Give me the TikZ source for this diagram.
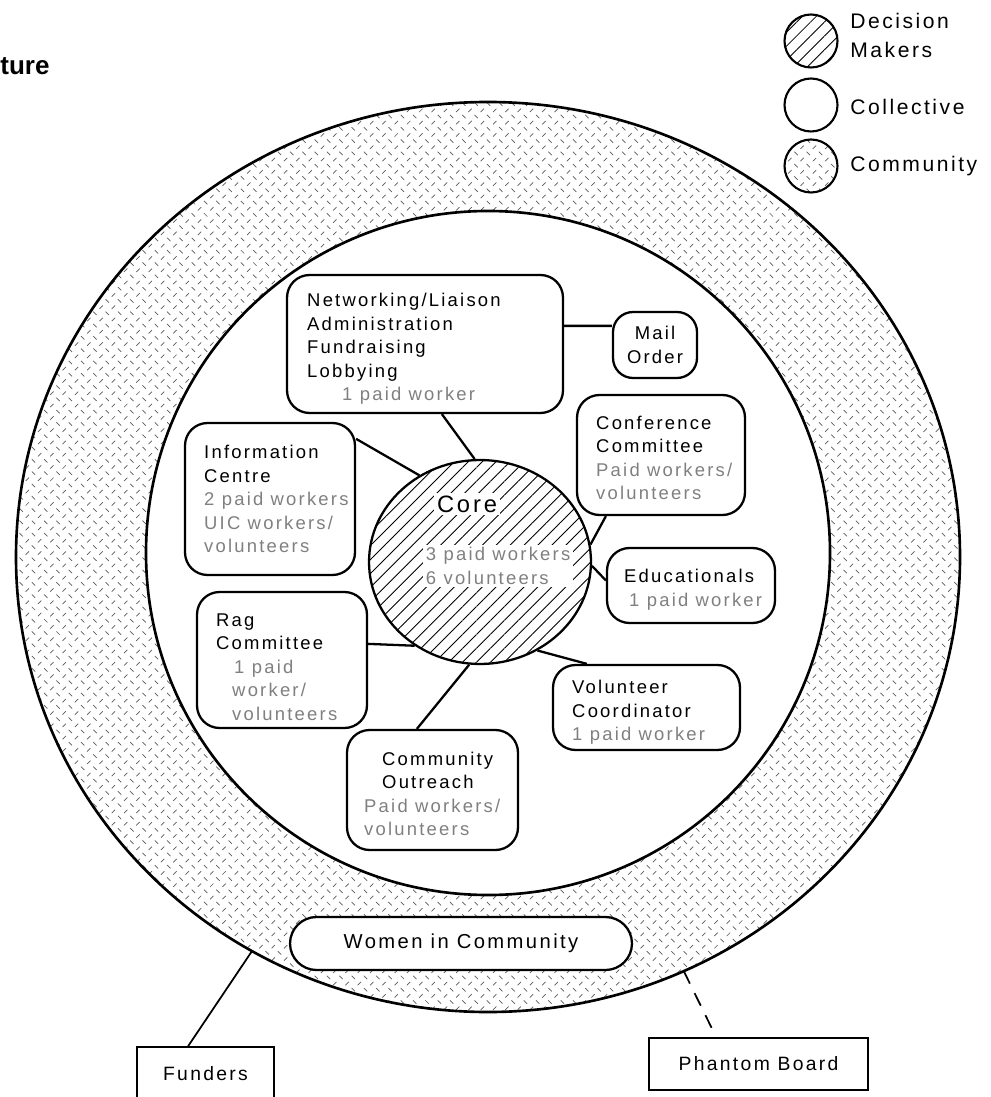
\documentclass[tikz,border=0pt]{standalone}
\usepackage{fontspec}
\newfontfamily\dgfont[LetterSpace=12]{Liberation Sans}
\newfontfamily\ttlfont{Liberation Sans}
\usetikzlibrary{shapes.geometric,patterns,patterns.meta,calc}
\colorlet{faint}{black!50}
\newcommand\fnt[1]{\textcolor{faint}{#1}}
\pgfdeclarepatternformonly{ringdash}{\pgfqpoint{-1pt}{-1pt}}{\pgfqpoint{8pt}{8pt}}{\pgfqpoint{7pt}{7pt}}{%
  \pgfsetlinewidth{0.4pt}%
  \pgfpathmoveto{\pgfqpoint{0.6pt}{0.6pt}}\pgfpathlineto{\pgfqpoint{2.5pt}{2.5pt}}%
  \pgfpathmoveto{\pgfqpoint{4.1pt}{6.0pt}}\pgfpathlineto{\pgfqpoint{6.0pt}{4.1pt}}%
  \pgfusepath{stroke}}
\tikzset{
  ringline/.style={line width=1.5pt},
  box/.style={draw, line width=1.3pt, rounded corners=0.45cm, fill=white, inner sep=0pt},
  sqbox/.style={draw, line width=1pt, fill=white, inner sep=0pt, font=\dgfont\fontsize{11pt}{13pt}\selectfont},
  txt/.style={inner sep=0pt, align=left, font=\dgfont\fontsize{10.5pt}{13.4pt}\selectfont},
  conn/.style={line width=1.3pt},
  thinconn/.style={line width=1pt},
  hatch/.style={pattern={Lines[angle=45,distance=5.6pt,line width=0.5pt]}},
  ringfill/.style={pattern=ringdash, pattern color=black!65},
  coreshape/.style={ellipse, draw, line width=1.3pt, inner sep=0pt, minimum width=4.44cm, minimum height=4.08cm, hatch},
  coretxt/.style={fill=white, inner sep=1.5pt, align=left, font=\dgfont\fontsize{10.5pt}{13.4pt}\selectfont},
  legc/.style={circle, draw, line width=1.2pt, minimum size=1.06cm, inner sep=0pt},
  legtxt/.style={inner sep=0pt, align=left, font=\dgfont\fontsize{12pt}{16.5pt}\selectfont}
}
\begin{document}
\begin{tikzpicture}[x=0.02cm,y=-0.02cm]
\useasboundingbox (0,0) rectangle (990,1097);
\coordinate (C) at (488,557);
\coordinate (Ci) at (488,553);
% community ring
\fill[ringfill, even odd rule] (C) ellipse[x radius=472, y radius=455] (Ci) circle[radius=342];
\draw[ringline] (C) ellipse[x radius=472, y radius=455];
\draw[ringline] (Ci) circle[radius=342];

% title fragment
\node[anchor=base west, inner sep=0pt, font=\ttlfont\bfseries\fontsize{14.8pt}{16pt}\selectfont] (ttl) at (0,75) {ture};

% legend
\node[legc, hatch] (leg1) at (811,41) {};
\node[legc] (leg2) at (811,105) {};
\node[legc, ringfill] (leg3) at (811,166) {};
\node[legtxt, anchor=west] (leg1-t) at (850,35) {Decision\\Makers};
\node[legtxt, anchor=west] (leg2-t) at (850,107) {Collective};
\node[legtxt, anchor=west] (leg3-t) at (850,166) {Community};

% core
\node[coreshape] (core) at (480,562) {};
\node[coretxt, anchor=base, font=\dgfont\fontsize{13.5pt}{15pt}\selectfont] (core-t) at (467,512) {Core};
\node[coretxt, anchor=west] (core-w) at (423,566) {\fnt{3 paid workers}\\\fnt{6 volunteers}};

% boxes
\node[box, minimum width=5.52cm, minimum height=2.76cm] (net) at (425,344) {};
\node[txt, anchor=west] (net-t) at ($(net.west)+(21,5)$) {Networking/Liaison\\Administration\\Fundraising\\Lobbying\\\hspace*{0.7cm}\fnt{1 paid worker}};

\node[box, rounded corners=0.4cm, minimum width=1.68cm, minimum height=1.32cm, align=center, font=\dgfont\fontsize{10.5pt}{13.4pt}\selectfont] (mail) at (655,345) {Mail\\Order};

\node[box, minimum width=3.4cm, minimum height=3.04cm] (info) at (270,499) {};
\node[txt, anchor=west] (info-t) at ($(info.west)+(20,0)$) {Information\\Centre\\\fnt{2 paid workers}\\\fnt{UIC workers/}\\\fnt{volunteers}};

\node[box, minimum width=3.36cm, minimum height=2.4cm] (conf) at (661,455) {};
\node[txt, anchor=west] (conf-t) at ($(conf.west)+(20,3)$) {Conference\\Committee\\\fnt{Paid workers/}\\\fnt{volunteers}};

\node[box, minimum width=3.36cm, minimum height=1.5cm] (edu) at (691,585.5) {};
\node[txt, anchor=west] (edu-t) at ($(edu.west)+(18,4)$) {Educationals\\\hspace*{0.1cm}\fnt{1 paid worker}};

\node[box, minimum width=3.4cm, minimum height=2.72cm] (rag) at (282,660) {};
\node[txt, anchor=west] (rag-t) at ($(rag.west)+(20,7)$) {Rag\\Committee\\\hspace*{0.36cm}\fnt{1 paid}\\\hspace*{0.32cm}\fnt{worker/}\\\hspace*{0.32cm}\fnt{volunteers}};

\node[box, minimum width=3.74cm, minimum height=1.7cm] (vc) at (646.5,707.5) {};
\node[txt, anchor=west] (vc-t) at ($(vc.west)+(20,5)$) {Volunteer\\Coordinator\\\fnt{1 paid worker}};

\node[box, minimum width=3.42cm, minimum height=2.4cm] (co) at (432.5,790) {};
\node[txt, anchor=west] (co-t) at ($(co.west)+(18,4)$) {\hspace*{0.36cm}Community\\\hspace*{0.36cm}Outreach\\\fnt{Paid workers/}\\\fnt{volunteers}};

\node[box, rounded corners=0.53cm, minimum width=6.84cm, minimum height=1.06cm, font=\dgfont\fontsize{11.5pt}{13pt}\selectfont] (women) at (461,943.5) {Women in Community};

\node[sqbox, minimum width=2.74cm, minimum height=1.08cm] (funders) at (205.5,1074) {Funders};
\node[sqbox, minimum width=4.38cm, minimum height=1.04cm] (phantom) at (758.5,1064) {Phantom Board};

% connectors
\draw[conn] ($(net.south west)+(156,0)$) -- (core.93);
\draw[conn] ($(net.north east)+(0,52)$) -- ($(mail.north west)+(0,15)$);
\draw[conn] ($(info.north east)+(0,17)$) -- (core.125);
\draw[conn] ($(conf.south west)+(30,0)$) -- (core.9);
\draw[conn] (core.-2) -- ($(edu.west)+(0,-5)$);
\draw[conn] ($(rag.north east)+(0,53)$) -- (core.232);
\draw[conn] (core.303) -- ($(vc.north west)+(35,0)$);
\draw[conn] (core.264) -- ($(co.north west)+(71,0)$);

\coordinate (fe) at ($(C)+({472*cos(120)},{455*sin(120)})$);
\coordinate (pe) at ($(C)+({472*cos(65.5)},{455*sin(65.5)})$);
\draw[thinconn] (fe) -- ($(funders.north west)+(52,0)$);
\draw[thinconn, dash pattern=on 8pt off 6pt] (pe) -- ($(phantom.north west)+(68,0)$);
\end{tikzpicture}
\end{document}
